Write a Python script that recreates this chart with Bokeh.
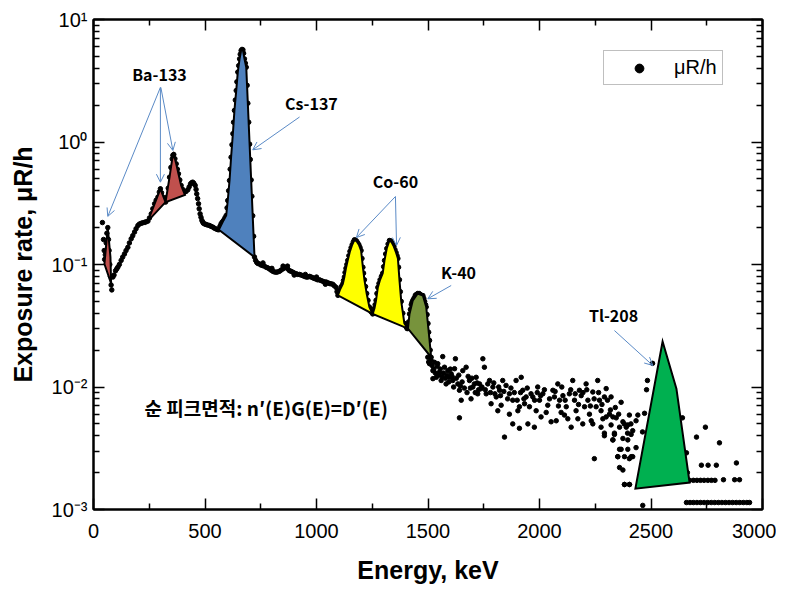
import json, math
from bokeh.plotting import figure
from bokeh.models import (LinearAxis, LogAxis, FixedTicker, CustomJSTickFormatter,
                          Arrow, OpenHead, Label, Legend, LegendItem)
from bokeh.embed import file_html
from bokeh.resources import INLINE

# ---------------- data ----------------
x_ticks = [0, 500, 1000, 1500, 2000, 2500, 3000]
x_minor = [250, 750, 1250, 1750, 2250, 2750]
y_ticks = [0.001, 0.01, 0.1, 1, 10]
y_tick_labels = ["10\u207b\u00b3", "10\u207b\u00b2", "10\u207b\u00b9", "10\u2070", "10\u00b9"]

# continuous part of the spectrum (keV, uR/h)
spec_E = [40, 45, 48, 50, 53, 57, 60, 64, 67, 70, 73, 76, 79, 82, 87, 99, 109, 124, 139, 154,
          169, 184, 199, 214, 229, 244, 259, 274, 289, 300, 311, 323, 330, 341, 353, 360, 371, 381, 393, 408,
          423, 435, 445, 456, 463, 471, 478, 486, 493, 505, 520, 535, 550, 562, 572, 583, 595, 602, 610, 617,
          625, 632, 640, 647, 655, 662, 670, 677, 685, 692, 700, 707, 714, 722, 732, 744, 759, 774, 789, 804,
          819, 834, 849, 864, 879, 894, 909, 924, 939, 954, 969, 983, 998, 1013, 1028, 1043, 1058, 1073, 1088, 1096,
          1105, 1118, 1125, 1132, 1140, 1150, 1160, 1170, 1180, 1190, 1200, 1208, 1215, 1225, 1237, 1245, 1252, 1260, 1267, 1275,
          1285, 1297, 1305, 1315, 1327, 1337, 1347, 1357, 1365, 1372, 1380, 1394, 1402, 1410, 1417, 1425, 1432, 1443, 1454, 1465,
          1477, 1485, 1492, 1500, 1507, 1514]
spec_v = [0.22, 0.16, 0.13, 0.11, 0.12, 0.15, 0.18, 0.20, 0.16, 0.13, 0.10, 0.08, 0.068, 0.062, 0.079, 0.089, 0.095, 0.108, 0.122, 0.138,
          0.162, 0.184, 0.208, 0.217, 0.221, 0.226, 0.259, 0.313, 0.355, 0.415, 0.355, 0.323, 0.355, 0.516, 0.728, 0.791, 0.663, 0.550, 0.442, 0.389,
          0.407, 0.455, 0.470, 0.442, 0.377, 0.313, 0.259, 0.229, 0.217, 0.212, 0.208, 0.202, 0.195, 0.192, 0.215, 0.229, 0.251, 0.333, 0.485, 0.751,
          1.17, 1.81, 2.63, 3.72, 4.77, 5.58, 5.65, 4.77, 4.08, 2.07, 0.96, 0.49, 0.25, 0.115, 0.104, 0.101, 0.098, 0.095, 0.092, 0.088,
          0.0865, 0.088, 0.092, 0.095, 0.089, 0.0865, 0.084, 0.083, 0.081, 0.079, 0.080, 0.078, 0.076, 0.075, 0.073, 0.072, 0.070, 0.069, 0.065, 0.056,
          0.062, 0.0695, 0.079, 0.093, 0.108, 0.128, 0.145, 0.159, 0.155, 0.145, 0.130, 0.095, 0.075, 0.058, 0.045, 0.041, 0.0395, 0.044, 0.051, 0.065,
          0.075, 0.085, 0.108, 0.135, 0.157, 0.152, 0.140, 0.125, 0.112, 0.075, 0.050, 0.033, 0.031, 0.030, 0.0395, 0.047, 0.051, 0.056, 0.058, 0.057,
          0.0558, 0.050, 0.045, 0.033, 0.024, 0.0175]

# more readings along the same continuous part
spec2_E = [92, 104, 116, 131, 146, 161, 176, 191, 206, 221, 236, 251, 266, 281, 295, 305, 317, 327, 335, 347,
           356, 365, 376, 387, 400, 415, 429, 440, 450, 460, 467, 474, 482, 490, 499, 512, 527, 542, 556, 567,
           577, 589, 599, 606, 613, 621, 628, 636, 643, 651, 658, 666, 673, 681, 689, 696, 703, 710, 718, 727,
           737, 751, 766, 781, 796, 811, 826, 841, 856, 871, 886, 901, 916, 931, 946, 961, 976, 990, 1005, 1020,
           1035, 1050, 1065, 1080, 1092, 1100, 1111, 1121, 1128, 1136, 1145, 1155, 1165, 1175, 1185, 1195, 1204, 1211, 1220, 1231,
           1241, 1256, 1263, 1271, 1280, 1291, 1301, 1310, 1321, 1332, 1342, 1352, 1361, 1368, 1376, 1387, 1398, 1406, 1413, 1421,
           1428, 1437, 1448, 1460, 1471, 1481, 1489, 1496, 1503, 1510, 760, 800, 850, 870, 900, 950, 1000, 1040]
spec2_v = [0.082, 0.092, 0.100, 0.115, 0.130, 0.150, 0.172, 0.196, 0.214, 0.219, 0.223, 0.240, 0.285, 0.335, 0.390, 0.385, 0.330, 0.335, 0.420, 0.620,
           0.780, 0.730, 0.600, 0.490, 0.410, 0.395, 0.430, 0.465, 0.460, 0.410, 0.345, 0.285, 0.243, 0.222, 0.214, 0.210, 0.205, 0.198, 0.193, 0.205,
           0.222, 0.240, 0.29, 0.40, 0.60, 0.95, 1.45, 2.2, 3.1, 4.2, 5.2, 5.7, 5.3, 4.4, 2.9, 1.45, 0.72, 0.36, 0.17, 0.108,
           0.102, 0.099, 0.097, 0.094, 0.090, 0.087, 0.087, 0.090, 0.094, 0.092, 0.088, 0.085, 0.083, 0.082, 0.080, 0.079, 0.079, 0.077, 0.075, 0.074,
           0.072, 0.071, 0.0695, 0.067, 0.060, 0.059, 0.066, 0.074, 0.086, 0.100, 0.118, 0.137, 0.153, 0.158, 0.150, 0.138, 0.112, 0.085, 0.066, 0.051,
           0.043, 0.041, 0.047, 0.058, 0.070, 0.080, 0.096, 0.122, 0.147, 0.156, 0.146, 0.132, 0.118, 0.095, 0.060, 0.040, 0.032, 0.030, 0.034, 0.043,
           0.049, 0.053, 0.057, 0.058, 0.056, 0.053, 0.047, 0.039, 0.028, 0.020, 0.103, 0.093, 0.097, 0.097, 0.082, 0.083, 0.079, 0.069]

# scattered high-energy part (keV, uR/h)
scat_E = [1499, 1514, 1529, 1544, 1566, 1574, 1589, 1522, 1537, 1559, 1596, 1611, 1623, 1634, 1604, 1551, 1507, 1522, 1581, 1619,
          1641, 1656, 1671, 1686, 1701, 1716, 1731, 1746, 1753, 1761, 1776, 1791, 1806, 1821, 1835, 1850, 1865, 1880, 1895, 1910,
          1918, 1641, 1649, 1693, 1723, 1783, 1813, 1828, 1843, 1865, 1880, 1903, 1910, 1925, 1940, 1708, 1738, 1933, 1948, 1955,
          1970, 1985, 1992, 2000, 2015, 2030, 2037, 2052, 2060, 2067, 2082, 2090, 2097, 2105, 2120, 2127, 2134, 2149, 2157, 2164,
          2179, 2187, 2194, 2202, 2209, 2217, 2224, 2232, 2239, 2254, 2261, 2269, 2276, 2284, 2291, 2299, 2314, 2321, 2329, 1977,
          2007, 2075, 2142, 2239, 2112, 2172, 2276, 2291, 2321, 2336, 2359, 2374, 2389, 2403, 2366, 2329, 2359, 2374, 2396, 2418,
          2433, 2441, 2351, 2381, 2403, 2418, 2359, 2374, 2433, 2246, 2381, 2403, 2299, 2344, 2463, 2507, 2484, 2480, 2471, 2462,
          2641, 2659, 2663, 2704, 2744, 2807, 2726, 2756, 2793, 2883, 2673, 2690, 2706, 2722, 2738, 2755, 2771, 2787, 2825, 2875,
          2897, 2659, 2675, 2690, 2706, 2722, 2738, 2754, 2770, 2786, 2802, 2818, 2834, 2850, 2866, 2882, 2898, 2914, 2930, 2942,
          2291, 2336, 2396, 2411, 2329, 2366, 2396, 2411, 2351, 2381, 2404,
          1503, 1518, 1526, 1533, 1541, 1548, 1555, 1563, 1570, 1578, 1585, 1593, 1600, 1608, 1615, 1627, 1638, 1645, 1653, 1663,
          1675, 1680, 1690, 1697, 1712, 1720, 1727, 1742, 1757, 1768, 1780, 1795, 1800, 1817, 1825, 1840, 1857, 1872, 1887, 1900,
          1915, 1930, 1945, 1962, 1978, 1990, 2005, 2022, 2045, 2070, 2085, 2100, 2115, 2140, 2160, 2175, 2195, 2212, 2228, 2245,
          2265, 2280, 2305, 2318, 2340, 2355, 2380, 2395, 2410]
scat_v = [0.0175, 0.0165, 0.0159, 0.0155, 0.0177, 0.0145, 0.0136, 0.0136, 0.0120, 0.0113, 0.0120, 0.0113, 0.0170, 0.0106, 0.0128, 0.0132, 0.0155, 0.0117, 0.0106, 0.0141,
          0.0094, 0.0136, 0.0145, 0.0113, 0.0100, 0.0120, 0.0106, 0.0170, 0.0145, 0.0088, 0.0113, 0.0100, 0.0083, 0.0094, 0.0113, 0.0103, 0.0088, 0.0078, 0.0113, 0.0069,
          0.0120, 0.0056, 0.0078, 0.0080, 0.0088, 0.0073, 0.0064, 0.0071, 0.0039, 0.0060, 0.0050, 0.0064, 0.0046, 0.0094, 0.0083, 0.0106, 0.0097, 0.0073, 0.0050, 0.0069,
          0.0083, 0.0064, 0.0100, 0.0078, 0.0088, 0.0062, 0.0071, 0.0052, 0.0094, 0.0083, 0.0106, 0.0078, 0.0062, 0.0085, 0.0069, 0.0055, 0.0088, 0.0113, 0.0078, 0.0064,
          0.0094, 0.0085, 0.0050, 0.0069, 0.0106, 0.0078, 0.0060, 0.0053, 0.0091, 0.0069, 0.0113, 0.0078, 0.0064, 0.0055, 0.0083, 0.0097, 0.0060, 0.0083, 0.0057, 0.0047,
          0.0057, 0.0053, 0.0047, 0.0050, 0.0059, 0.0055, 0.0047, 0.0042, 0.0049, 0.0042, 0.0047, 0.0052, 0.0047, 0.0059, 0.0075, 0.0037, 0.0031, 0.0038, 0.0037, 0.0044,
          0.0053, 0.0059, 0.0027, 0.0027, 0.0026, 0.0027, 0.0022, 0.0021, 0.0032, 0.0026, 0.0016, 0.0016, 0.0057, 0.0056, 0.00108, 0.0156, 0.0113, 0.0095, 0.0061, 0.0043,
          0.0056, 0.0029, 0.0020, 0.0039, 0.0047, 0.0035, 0.0023, 0.0023, 0.0023, 0.0024, 0.00173, 0.00173, 0.00173, 0.00173, 0.00173, 0.00173, 0.00173, 0.00173, 0.00175, 0.00175,
          0.00175, 0.00114, 0.00114, 0.00114, 0.00114, 0.00114, 0.00114, 0.00114, 0.00114, 0.00114, 0.00114, 0.00114, 0.00114, 0.00114, 0.00114, 0.00114, 0.00114, 0.00114, 0.00114, 0.00114,
          0.0040, 0.0041, 0.0049, 0.0041, 0.0037, 0.0031, 0.0031, 0.0027, 0.0027, 0.0016, 0.0016,
          0.0160, 0.0150, 0.0140, 0.0130, 0.0148, 0.0125, 0.0140, 0.0122, 0.0130, 0.0118, 0.0125, 0.0110, 0.0140, 0.0122, 0.0100, 0.0118, 0.0125, 0.0102, 0.0110, 0.0098,
          0.0090, 0.0122, 0.0098, 0.0118, 0.0090, 0.0108, 0.0095, 0.0100, 0.0095, 0.0106, 0.0090, 0.0108, 0.0088, 0.0100, 0.0085, 0.0092, 0.0080, 0.0098, 0.0090, 0.0078,
          0.0090, 0.0080, 0.0098, 0.0088, 0.0078, 0.0090, 0.0085, 0.0095, 0.0080, 0.0092, 0.0070, 0.0100, 0.0078, 0.0095, 0.0088, 0.0072, 0.0090, 0.0095, 0.0070, 0.0080,
          0.0090, 0.0072, 0.0078, 0.0065, 0.0068, 0.0060, 0.0050, 0.0042, 0.0050]

# net peak areas (polygon vertices, keV / uR/h)
ba1_E = [49, 64, 76, 79]
ba1_v = [0.101, 0.20, 0.115, 0.07]
ba2_E = [244, 300, 323]
ba2_v = [0.226, 0.415, 0.323]
ba3_E = [323, 341, 353, 360, 371, 381, 393, 410]
ba3_v = [0.323, 0.516, 0.728, 0.791, 0.663, 0.550, 0.442, 0.37]
cs_E = [562, 583, 595, 602, 610, 617, 625, 632, 640, 647, 655, 662, 670, 677, 685, 722]
cs_v = [0.192, 0.229, 0.251, 0.333, 0.485, 0.751, 1.17, 1.81, 2.63, 3.72, 4.77, 5.58, 5.65, 4.77, 4.08, 0.115]
co1_E = [1096, 1105, 1118, 1125, 1132, 1140, 1150, 1160, 1170, 1180, 1190, 1200, 1208, 1215, 1225, 1237, 1252]
co1_v = [0.056, 0.062, 0.0695, 0.079, 0.093, 0.108, 0.128, 0.145, 0.159, 0.155, 0.145, 0.130, 0.095, 0.075, 0.058, 0.045, 0.0395]
co2_E = [1252, 1260, 1267, 1275, 1285, 1297, 1305, 1315, 1327, 1337, 1347, 1357, 1365, 1372, 1380, 1394, 1410]
co2_v = [0.0395, 0.044, 0.051, 0.065, 0.075, 0.085, 0.108, 0.135, 0.157, 0.152, 0.140, 0.125, 0.112, 0.075, 0.050, 0.033, 0.030]
k40_E = [1410, 1417, 1432, 1454, 1477, 1492, 1507, 1514]
k40_v = [0.030, 0.0395, 0.051, 0.058, 0.0558, 0.045, 0.024, 0.0175]
tl_E = [2430, 2552, 2614, 2673]
tl_v = [0.00148, 0.0235, 0.0097, 0.00166]

# ---------------- figure ----------------
p = figure(frame_width=669, frame_height=490, x_range=(0, 3000), y_range=(0.001, 10),
           y_axis_type="log", output_backend="svg", toolbar_location=None,
           min_border_left=93, min_border_top=19, min_border_right=14, min_border_bottom=80,
           background_fill_color="white", border_fill_color="white")
p.xgrid.visible = False
p.ygrid.visible = False
p.outline_line_color = "black"
p.outline_line_width = 2

xa = p.below[0]
ya = p.left[0]

x_ticker = FixedTicker(ticks=x_ticks, minor_ticks=x_minor)
y_minor = [m * 10.0 ** k for k in range(-3, 1) for m in range(2, 10)]
y_ticker = FixedTicker(ticks=y_ticks, minor_ticks=y_minor)
lab_map = {str(round(math.log10(t))): l for t, l in zip(y_ticks, y_tick_labels)}
y_fmt = CustomJSTickFormatter(code="const L = %s; return L[String(Math.round(Math.log10(tick)))] || '';"
                              % json.dumps(lab_map))
empty_fmt = CustomJSTickFormatter(code="return '';")

top = LinearAxis(ticker=x_ticker, formatter=empty_fmt, major_label_standoff=0,
                 major_label_text_font_size="1px")
right = LogAxis(ticker=y_ticker, formatter=empty_fmt, major_label_standoff=0,
                major_label_text_font_size="1px")
p.add_layout(top, "above")
p.add_layout(right, "right")

xa.ticker = x_ticker
ya.ticker = y_ticker
ya.formatter = y_fmt

for ax in [xa, ya, top, right]:
    ax.axis_line_color = "black"
    ax.axis_line_width = 2
    ax.major_tick_in = 11
    ax.major_tick_out = 0
    ax.minor_tick_in = 6
    ax.minor_tick_out = 0
    ax.major_tick_line_width = 1.5
    ax.minor_tick_line_width = 1.5
    ax.major_tick_line_color = "black"
    ax.minor_tick_line_color = "black"

for ax in [xa, ya]:
    ax.major_label_text_font = "Liberation Sans"
    ax.major_label_text_font_size = "20px"
    ax.major_label_text_color = "black"
    ax.axis_label_text_font = "Liberation Sans"
    ax.axis_label_text_font_size = "25px"
    ax.axis_label_text_font_style = "bold"
    ax.axis_label_text_color = "black"

xa.axis_label = "Energy, keV"
xa.major_label_standoff = 14
xa.axis_label_standoff = 15
ya.axis_label = "Exposure rate, \u03bcR/h"
ya.major_label_standoff = 6
ya.axis_label_standoff = 12

# spectrum points
pts = p.scatter(spec_E + spec2_E + scat_E, spec_v + spec2_v + scat_v, marker="circle", size=4.5,
                fill_color="black", line_color="black")

# peak areas
polys = [
    (ba1_E, ba1_v, "#C0504D"),
    (ba2_E, ba2_v, "#C0504D"),
    (ba3_E, ba3_v, "#C0504D"),
    (cs_E, cs_v, "#4F81BD"),
    (co1_E, co1_v, "#FFFF00"),
    (co2_E, co2_v, "#FFFF00"),
    (k40_E, k40_v, "#77933C"),
    (tl_E, tl_v, "#00B050"),
]
for xs, ys, col in polys:
    p.patch(xs, ys, fill_color=col, line_color="black", line_width=2, line_join="miter")

# arrows (start E, start rate, end E, end rate)
arrow_col = "#5A8AC6"
arrows = [
    (300, 2.79, 64, 0.247), (300, 2.79, 300, 0.47), (302, 2.79, 356, 0.853),
    (924, 1.60, 714, 0.863),
    (1354, 0.359, 1179, 0.166), (1354, 0.359, 1359, 0.143),
    (1604, 0.0674, 1499, 0.0525),
    (2336, 0.0289, 2508, 0.0150),
]
for xs0, ys0, xe, ye in arrows:
    p.add_layout(Arrow(x_start=xs0, y_start=ys0, x_end=xe, y_end=ye,
                       line_color=arrow_col, line_width=1,
                       end=OpenHead(size=8, line_color=arrow_col, line_width=1)))

labels = [("Ba-133", 296, 3.62), ("Cs-137", 977, 2.10), ("Co-60", 1354, 0.476),
          ("K-40", 1637, 0.0861), ("Tl-208", 2332, 0.0384)]
for t, lx, ly in labels:
    p.add_layout(Label(x=lx, y=ly, text=t, text_align="center", text_baseline="middle",
                       text_font="Noto Sans CJK KR", text_font_style="bold",
                       text_font_size="16px", text_color="black"))

p.add_layout(Label(x=229, y=0.0068, text="\uc21c \ud53c\ud06c\uba74\uc801: n\u2032(E)G(E)=D\u2032(E)",
                   text_align="left", text_baseline="middle",
                   text_font="Noto Sans CJK KR", text_font_style="bold",
                   text_font_size="19px", text_color="black"))

legend = Legend(items=[LegendItem(label="\u03bcR/h", renderers=[pts])],
                location=(510, 424), orientation="vertical",
                label_text_font="Liberation Sans", label_text_font_size="20px",
                label_text_color="black",
                glyph_width=60, glyph_height=22, label_standoff=5, padding=5, margin=0,
                spacing=0, border_line_color="#808080", border_line_width=1.5,
                background_fill_color="white", background_fill_alpha=1)
p.add_layout(legend)

open("out.html", "w").write(file_html(p, INLINE))
